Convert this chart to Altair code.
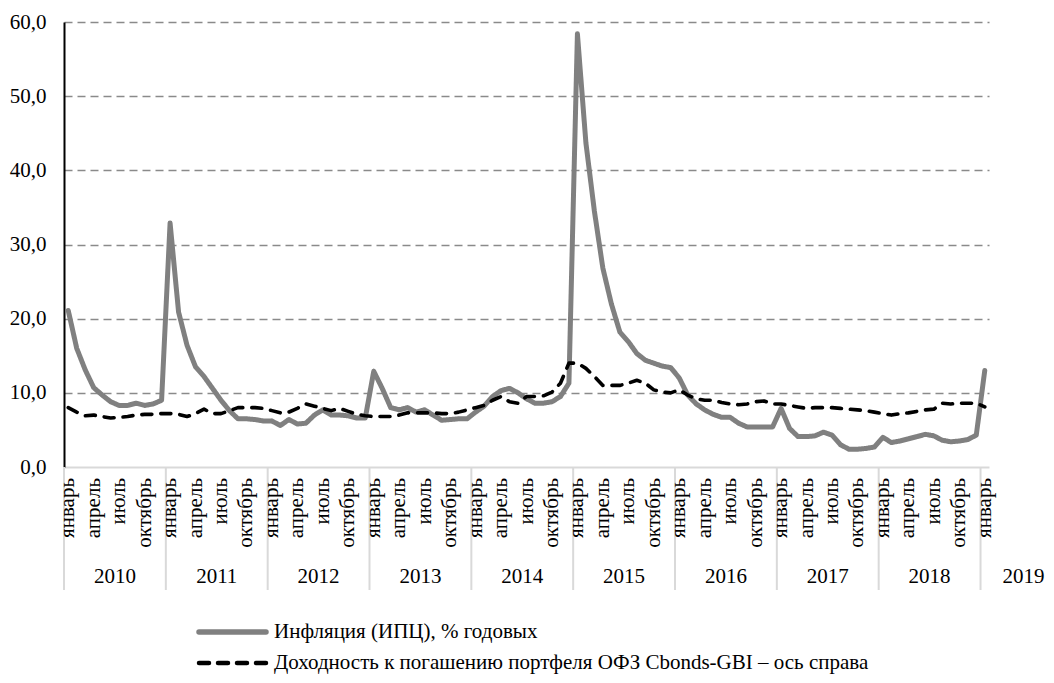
import altair as alt
import pandas as pd

# ---------------- data ----------------
months_ru = ["январь", "февраль", "март", "апрель", "май", "июнь",
             "июль", "август", "сентябрь", "октябрь", "ноябрь", "декабрь"]
years = [2010, 2011, 2012, 2013, 2014, 2015, 2016, 2017, 2018, 2019]
series_names = ["Инфляция (ИПЦ), % годовых",
                "Доходность к погашению портфеля ОФЗ Cbonds-GBI – ось справа"]
y_ticks = [0, 10, 20, 30, 40, 50, 60]

inflation_2010 = [21.1, 16.0, 13.1, 10.7, 9.7, 8.8, 8.3, 8.3, 8.6, 8.3, 8.5, 9.0]
inflation_2011 = [32.9, 20.9, 16.4, 13.5, 12.2, 10.6, 9.0, 7.6, 6.5, 6.5, 6.4, 6.2]
inflation_2012 = [6.2, 5.6, 6.4, 5.8, 5.9, 7.0, 7.7, 7.0, 7.0, 6.9, 6.6, 6.6]
inflation_2013 = [12.9, 10.6, 8.0, 7.7, 8.0, 7.4, 7.7, 7.0, 6.3, 6.4, 6.5, 6.5]
inflation_2014 = [7.4, 8.2, 9.5, 10.3, 10.6, 10.0, 9.2, 8.6, 8.6, 8.8, 9.5, 11.3]
inflation_2015 = [58.4, 43.7, 34.5, 26.8, 22.0, 18.2, 16.9, 15.3, 14.4, 14.0, 13.6, 13.4]
inflation_2016 = [12.0, 9.7, 8.5, 7.7, 7.1, 6.7, 6.7, 5.9, 5.4, 5.4, 5.4, 5.4]
inflation_2017 = [7.9, 5.2, 4.1, 4.1, 4.2, 4.7, 4.3, 3.0, 2.4, 2.4, 2.5, 2.7]
inflation_2018 = [4.0, 3.3, 3.5, 3.8, 4.1, 4.4, 4.2, 3.6, 3.4, 3.5, 3.7, 4.3]
inflation_2019 = [13.0]

yield_2010 = [8.0, 7.4, 6.9, 7.0, 6.8, 6.6, 6.7, 6.8, 7.0, 7.1, 7.1, 7.2]
yield_2011 = [7.2, 7.1, 6.8, 7.2, 7.8, 7.2, 7.2, 7.6, 8.0, 8.0, 8.0, 7.9]
yield_2012 = [7.6, 7.3, 7.4, 7.9, 8.5, 8.2, 7.9, 7.6, 7.9, 7.5, 7.1, 6.9]
yield_2013 = [6.8, 6.8, 6.8, 7.0, 7.3, 7.3, 7.3, 7.3, 7.2, 7.2, 7.4, 7.7]
yield_2014 = [8.0, 8.3, 9.0, 9.5, 8.8, 8.6, 9.5, 9.5, 9.6, 10.1, 11.3, 14.0]
yield_2015 = [14.0, 13.3, 12.2, 11.0, 11.0, 11.0, 11.3, 11.7, 11.3, 10.4, 10.1, 10.0]
yield_2016 = [10.4, 9.7, 9.2, 9.0, 9.0, 8.7, 8.5, 8.4, 8.5, 8.8, 8.9, 8.5]
yield_2017 = [8.5, 8.3, 8.1, 7.9, 8.0, 8.0, 8.0, 7.9, 7.8, 7.7, 7.6, 7.4]
yield_2018 = [7.2, 7.0, 7.2, 7.3, 7.5, 7.7, 7.8, 8.6, 8.5, 8.6, 8.6, 8.6]
yield_2019 = [8.1]

inflation = (inflation_2010 + inflation_2011 + inflation_2012 + inflation_2013 +
             inflation_2014 + inflation_2015 + inflation_2016 + inflation_2017 +
             inflation_2018 + inflation_2019)
yields = (yield_2010 + yield_2011 + yield_2012 + yield_2013 + yield_2014 +
          yield_2015 + yield_2016 + yield_2017 + yield_2018 + yield_2019)

n = len(inflation)

rows = []
for i in range(n):
    rows.append({"idx": i, "series": series_names[0], "value": inflation[i]})
    rows.append({"idx": i, "series": series_names[1], "value": yields[i]})
df = pd.DataFrame(rows)

tick_idx = [i for i in range(n) if i % 3 == 0]
tick_df = pd.DataFrame({"idx": tick_idx, "label": [months_ru[i % 12] for i in tick_idx]})

year_df = pd.DataFrame({
    "mid": [12 * k + 5.5 for k in range(len(years))],
    "sep": [12 * k - 0.5 for k in range(len(years))],
    "label": [str(y) for y in years],
})
full_years_df = year_df.iloc[:-1]
last_year_df = year_df.iloc[-1:]

legend_df = pd.DataFrame({"series": series_names})

# ---------------- layout / style ----------------
W, H = 925, 445
FONT = "Liberation Serif, Times New Roman, DejaVu Serif, serif"
FS = 21
GRAY = "#808080"
x_scale = alt.Scale(domain=[-0.5, n - 0.5], nice=False, zero=False)
y_scale = alt.Scale(domain=[0, 60], nice=False, zero=True)
color_scale = alt.Scale(domain=series_names, range=[GRAY, "#000000"])
dash_scale = alt.Scale(domain=series_names, range=[[1, 0], [10, 9]])

lines = alt.Chart(df).mark_line(strokeCap="round", strokeJoin="round").encode(
    x=alt.X("idx:Q", scale=x_scale,
            axis=alt.Axis(labels=False, ticks=False, grid=False, title=None,
                          domainColor="#d9d9d9", domainWidth=2)),
    y=alt.Y("value:Q", scale=y_scale,
            axis=alt.Axis(values=y_ticks, title=None, ticks=False,
                          labelExpr="replace(format(datum.value, '.1f'), '.', ',')",
                          labelFont=FONT, labelFontSize=FS, labelColor="black",
                          labelPadding=18, domainColor="black", domainWidth=2,
                          grid=True, gridColor="#8a8a8a", gridWidth=1.3,
                          gridDash=[8, 5],
                          gridOpacity={"condition": {"test": "datum.value === 0", "value": 0}, "value": 1})),
    color=alt.Color("series:N", scale=color_scale, legend=None),
    strokeDash=alt.StrokeDash("series:N", scale=dash_scale, legend=None),
    size=alt.Size("series:N", scale=alt.Scale(domain=series_names, range=[5, 3.6]), legend=None),
    detail="series:N",
)

month_labels = alt.Chart(tick_df).mark_text(
    angle=270, align="right", baseline="middle", font=FONT, fontSize=FS, color="black"
).encode(
    x=alt.X("idx:Q", scale=x_scale),
    y=alt.value(H + 11),
    text="label:N",
)

year_labels = alt.Chart(full_years_df).mark_text(
    align="center", baseline="middle", font=FONT, fontSize=FS, color="black"
).encode(
    x=alt.X("mid:Q", scale=x_scale),
    y=alt.value(H + 110),
    text="label:N",
)

last_year_label = alt.Chart(last_year_df).mark_text(
    align="center", baseline="middle", font=FONT, fontSize=FS, color="black", dx=-8
).encode(
    x=alt.X("mid:Q", scale=x_scale),
    y=alt.value(H + 110),
    text="label:N",
)

separators = alt.Chart(year_df).mark_rule(color="#d9d9d9", strokeWidth=2).encode(
    x=alt.X("sep:Q", scale=x_scale),
    y=alt.value(H),
    y2=alt.value(H + 123),
)

# manual legend (two rows)
legend_layers = []
row_y = [H + 165, H + 196]
stroke_w = [5.5, 4.5]
for k, name in enumerate(series_names):
    base = alt.Chart(legend_df).transform_filter(alt.datum.series == name)
    swatch = base.mark_rule(strokeCap="round", strokeWidth=stroke_w[k]).encode(
        x=alt.value(135), x2=alt.value(202), y=alt.value(row_y[k]),
        color=alt.Color("series:N", scale=color_scale, legend=None),
        strokeDash=alt.StrokeDash("series:N", scale=dash_scale, legend=None),
    )
    label = base.mark_text(align="left", baseline="middle", font=FONT, fontSize=FS,
                           color="black").encode(
        x=alt.value(210), y=alt.value(row_y[k]), text="series:N",
    )
    legend_layers += [swatch, label]

chart = alt.layer(separators, lines, month_labels, year_labels, last_year_label,
                  *legend_layers).properties(
    width=W, height=H,
    autosize=alt.AutoSizeParams(type="none"),
    padding={"left": 56, "top": 14, "right": 57, "bottom": 208},
    background="white",
).configure_view(stroke=None)

chart.save("out.html", embed_options={"renderer": "svg", "actions": False})
